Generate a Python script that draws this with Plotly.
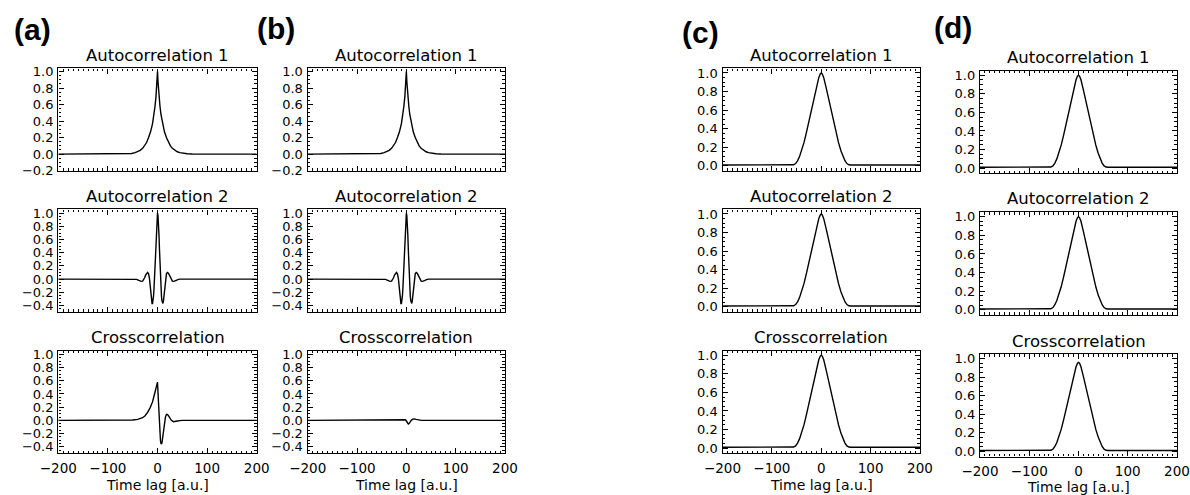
import plotly.graph_objects as go

# ---------------------------------------------------------------------------
# Correlation curves (time lag in arbitrary units)
# ---------------------------------------------------------------------------

# Autocorrelation 1, columns (a) and (b): sharp cusp-shaped peak
LAG_ACF1 = [-200, -80, -70, -60, -52, -45, -40, -35, -30, -26, -22, -18, -14, -10, -7, -5, -3, -2, -1,
            0, 1, 2, 3, 5, 7, 10, 14, 18, 22, 26, 30, 35, 40, 45, 52, 60, 70, 80, 200]
ACF1_AB = [0.0, 0.0, 0.001, 0.004, 0.008, 0.017, 0.028, 0.045, 0.07, 0.1, 0.14, 0.2, 0.27, 0.37, 0.48, 0.58, 0.7, 0.78, 0.88,
           1.0, 0.88, 0.78, 0.7, 0.58, 0.48, 0.37, 0.27, 0.2, 0.14, 0.1, 0.07, 0.045, 0.028, 0.017, 0.008, 0.004, 0.001, 0.0, 0.0]

# Autocorrelation 2, columns (a) and (b): damped oscillation
LAG_ACF2 = [-200, -60, -46, -42, -39, -36, -33, -30, -28, -26, -24, -22, -20, -18, -17, -16, -15, -14, -13, -12,
            -11, -10, -9, -8, -7, -6, -5, -4, -3, -2, -1,
            0, 1, 2, 3, 4, 5, 6, 7, 8, 9, 10, 11, 12, 13, 14, 15, 16, 17, 18, 20, 22, 24, 26, 28, 30,
            33, 36, 39, 42, 46, 60, 200]
ACF2_AB = [0.0, 0.0, 0.0, -0.005, -0.015, -0.03, -0.035, -0.03, -0.01, 0.02, 0.06, 0.09, 0.1, 0.08, 0.05, 0.0, -0.08, -0.17, -0.26, -0.33,
           -0.37, -0.37, -0.33, -0.26, -0.14, 0.02, 0.22, 0.45, 0.67, 0.85, 0.96,
           1.0, 0.96, 0.85, 0.67, 0.45, 0.22, 0.02, -0.14, -0.26, -0.33, -0.37, -0.37, -0.33, -0.26, -0.17, -0.08, 0.0, 0.05, 0.08, 0.1, 0.09, 0.06, 0.02, -0.01, -0.03,
           -0.035, -0.03, -0.015, -0.005, 0.0, 0.0, 0.0]

# Crosscorrelation, column (a): asymmetric peak followed by ringing
LAG_CC_A = [-200, -80, -60, -50, -40, -30, -25, -20, -15, -10, -7, -5, -3, -2, -1,
            0, 1, 2, 3, 4, 5, 6, 7, 8, 9, 10, 12, 14, 16, 18, 20, 22, 25, 28, 32, 36, 40, 45, 50, 200]
CC_A = [0.0, 0.0, 0.002, 0.006, 0.015, 0.04, 0.07, 0.12, 0.19, 0.28, 0.37, 0.43, 0.49, 0.52, 0.55,
        0.58, 0.42, 0.22, 0.03, -0.13, -0.24, -0.31, -0.35, -0.36, -0.34, -0.29, -0.16, -0.03, 0.05, 0.09, 0.09, 0.07, 0.03, 0.0, -0.02, -0.02, -0.01, -0.005, 0.0, 0.0]

# Crosscorrelation, column (b): nearly flat
LAG_CC_B = [-200, -30, -15, -8, -4, -2, 0, 2, 4, 6, 8, 10, 13, 16, 20, 25, 30, 40, 200]
CC_B = [0.0, 0.0, 0.0, 0.004, 0.01, 0.008, -0.01, -0.04, -0.055, -0.045, -0.02, 0.0, 0.018, 0.022, 0.015, 0.005, 0.0, 0.0, 0.0]

# Broad peaks, columns (c) and (d)
LAG_WIDE = [-200, -70, -60, -56, -52, -48, -44, -40, -35, -30, -25, -20, -15, -10, -5, -2,
            0, 2, 5, 10, 15, 20, 25, 30, 35, 40, 44, 48, 52, 56, 60, 70, 200]
WIDE_PEAK = [0.01, 0.01, 0.01, 0.012, 0.025, 0.055, 0.1, 0.16, 0.25, 0.36, 0.48, 0.6, 0.72, 0.84, 0.95, 0.99,
             1.0, 0.99, 0.95, 0.84, 0.72, 0.6, 0.48, 0.36, 0.25, 0.16, 0.1, 0.055, 0.025, 0.012, 0.01, 0.01, 0.01]
WIDE_CC_D = [0.01, 0.01, 0.01, 0.012, 0.024, 0.053, 0.096, 0.154, 0.24, 0.346, 0.461, 0.576, 0.691, 0.806, 0.912, 0.95,
             0.96, 0.95, 0.912, 0.806, 0.691, 0.576, 0.461, 0.346, 0.24, 0.154, 0.096, 0.053, 0.024, 0.012, 0.01, 0.01, 0.01]

ROW_TITLES = ["Autocorrelation 1", "Autocorrelation 2", "Crosscorrelation"]
PANEL_LABELS = ["(a)", "(b)", "(c)", "(d)"]
X_TICKS = [-200, -100, 0, 100, 200]
X_LABEL = "Time lag [a.u.]"

# column -> list of (lags, values) per row
CURVES = {
    "a": [(LAG_ACF1, ACF1_AB), (LAG_ACF2, ACF2_AB), (LAG_CC_A, CC_A)],
    "b": [(LAG_ACF1, ACF1_AB), (LAG_ACF2, ACF2_AB), (LAG_CC_B, CC_B)],
    "c": [(LAG_WIDE, WIDE_PEAK), (LAG_WIDE, WIDE_PEAK), (LAG_WIDE, WIDE_PEAK)],
    "d": [(LAG_WIDE, WIDE_PEAK), (LAG_WIDE, WIDE_PEAK), (LAG_WIDE, WIDE_CC_D)],
}

# ---------------------------------------------------------------------------
# Layout geometry (pixels)
# ---------------------------------------------------------------------------
W, H = 1190, 495
COL_PX = {"a": (58.3, 256.7), "b": (307.7, 505.0), "c": (722.5, 920.0), "d": (980.0, 1177.0)}
ROW_PX = {
    "a": [(68.3, 171.0), (209.3, 312.0), (350.5, 453.3)],
    "b": [(68.3, 171.0), (209.3, 312.0), (350.5, 453.3)],
    "c": [(68.3, 171.0), (209.3, 312.0), (350.5, 453.3)],
    "d": [(70.5, 173.3), (212.0, 315.0), (354.0, 456.5)],
}
Y_RANGES = {
    "a": [(-0.205, 1.04), (-0.5, 1.06), (-0.5, 1.06)],
    "b": [(-0.205, 1.04), (-0.5, 1.06), (-0.5, 1.06)],
    "c": [(-0.055, 1.05), (-0.055, 1.05), (-0.055, 1.05)],
    "d": [(-0.055, 1.05), (-0.055, 1.05), (-0.055, 1.05)],
}
LABEL_POS = {"a": (12, 29), "b": (255, 28), "c": (680, 32.5), "d": (932, 27.5)}
XLABEL_GAP = {"a": 32, "b": 32, "c": 32, "d": 30.5}

TXT_FONT = "DejaVu Sans"
BOLD_FONT = "Liberation Sans"


def fx(p):
    return p / W


def fy(p):
    return 1 - p / H


fig = go.Figure()
layout = dict(
    width=W, height=H, autosize=False,
    margin=dict(l=0, r=0, t=0, b=0),
    paper_bgcolor="white", plot_bgcolor="white",
    showlegend=False, template="none",
    font=dict(family=TXT_FONT, color="black"),
)
annotations = []

n = 0
for col in ["a", "b", "c", "d"]:
    x0, x1 = COL_PX[col]
    for r in range(3):
        n += 1
        y0, y1 = ROW_PX[col][r]
        xs, ys = CURVES[col][r]
        sfx = "" if n == 1 else str(n)
        fig.add_trace(go.Scatter(
            x=xs, y=ys, mode="lines",
            line=dict(color="black", width=1.4),
            xaxis="x" + sfx, yaxis="y" + sfx, hoverinfo="skip",
        ))
        common = dict(
            showline=True, linecolor="black", linewidth=1.4, mirror="allticks",
            ticks="inside", tickcolor="black", tickwidth=1, showgrid=False, zeroline=False,
        )
        layout["xaxis" + sfx] = dict(
            common, domain=[fx(x0), fx(x1)], range=[-200, 200], anchor="y" + sfx,
            tickmode="array", tickvals=X_TICKS, ticklen=5,
            minor=dict(dtick=10, tick0=0, ticks="inside", ticklen=2.5, tickcolor="black", tickwidth=1),
            showticklabels=(r == 2), ticklabelstandoff=2,
            tickfont=dict(family=TXT_FONT, size=13.5, color="black"),
        )
        ylo, yhi = Y_RANGES[col][r]
        layout["yaxis" + sfx] = dict(
            common, domain=[fy(y1), fy(y0)], range=[ylo, yhi], anchor="x" + sfx,
            tick0=0, dtick=0.2, tickformat=".1f", ticklen=5,
            minor=dict(dtick=0.05, tick0=0, ticks="inside", ticklen=2.5, tickcolor="black", tickwidth=1),
            ticklabelstandoff=1,
            tickfont=dict(family=TXT_FONT, size=13, color="black"),
        )
        annotations.append(dict(
            text=ROW_TITLES[r], x=fx((x0 + x1) / 2), y=fy(y0 - 13),
            xref="paper", yref="paper", xanchor="center", yanchor="middle", showarrow=False,
            font=dict(family=TXT_FONT, size=16.5, color="black"),
        ))
        if r == 2:
            annotations.append(dict(
                text=X_LABEL, x=fx((x0 + x1) / 2), y=fy(y1 + XLABEL_GAP[col]),
                xref="paper", yref="paper", xanchor="center", yanchor="middle", showarrow=False,
                font=dict(family=TXT_FONT, size=14, color="black"),
            ))
    lx, ly = LABEL_POS[col]
    annotations.append(dict(
        text="<b>" + PANEL_LABELS["abcd".index(col)] + "</b>", x=fx(lx), y=fy(ly),
        xref="paper", yref="paper", xanchor="left", yanchor="middle", showarrow=False,
        font=dict(family=BOLD_FONT, size=30, color="black"),
    ))

layout["annotations"] = annotations
fig.update_layout(**layout)
fig.write_html("out.html")
